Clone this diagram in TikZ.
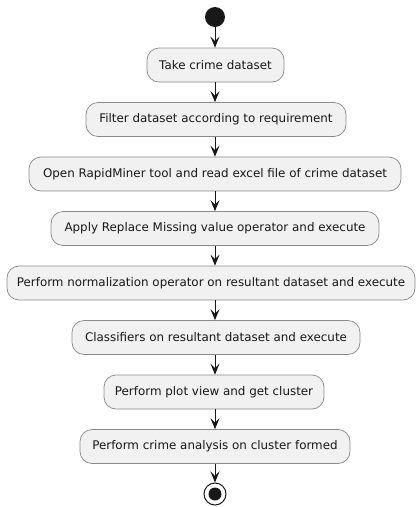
\documentclass[tikz,border=0pt]{standalone}
\usepackage{fontspec}
\setmainfont{DejaVu Sans}
\usetikzlibrary{arrows.meta}
\definecolor{boxfill}{HTML}{F1F1F1}
\definecolor{boxline}{HTML}{8A8A8A}
\definecolor{ink}{HTML}{181818}
\tikzset{
  act/.style={draw=boxline, line width=0.7pt, fill=boxfill, rounded corners=12pt,
    minimum height=34pt, inner sep=0pt, font=\fontsize{11.9}{14}\selectfont, text=ink},
  flow/.style={draw=ink, line width=1pt, -{Stealth[length=11pt, width=9pt, inset=4.5pt]}},
}
\begin{document}
\begin{tikzpicture}[x=1pt, y=-1pt]
  \useasboundingbox (0,0) rectangle (416,507);
  % start point
  \node[circle, fill=ink, minimum size=20pt, inner sep=0pt] (start) at (215,17) {};
  % actions
  \node[act, minimum width=137pt] (a1) at (215.5,65) {Take crime dataset};
  \node[act, minimum width=260pt] (a2) at (216,119.5) {Filter dataset according to requirement};
  \node[act, minimum width=372pt] (a3) at (215,174) {Open RapidMiner tool and read excel file of crime dataset};
  \node[act, minimum width=328pt] (a4) at (215,228.5) {Apply Replace Missing value operator and execute};
  \node[act, minimum width=408pt] (a5) at (211,283) {Perform normalization operator on resultant dataset and execute};
  \node[act, minimum width=288pt] (a6) at (216,337.5) {Classifiers on resultant dataset and execute};
  \node[act, minimum width=220pt] (a7) at (214,392) {Perform plot view and get cluster};
  \node[act, minimum width=270pt] (a8) at (215,446.5) {Perform crime analysis on cluster formed};
  % end point
  \node[circle, draw=ink, line width=1pt, fill=white, minimum size=22pt, inner sep=0pt] (stop) at (215,494) {};
  \node[circle, fill=ink, minimum size=13pt, inner sep=0pt] (stopdot) at (stop) {};
  % control flow
  \draw[flow] (start) -- (a1.north -| start);
  \draw[flow] (a1.south -| start) -- (a2.north -| start);
  \draw[flow] (a2.south -| start) -- (a3.north -| start);
  \draw[flow] (a3.south -| start) -- (a4.north -| start);
  \draw[flow] (a4.south -| start) -- (a5.north -| start);
  \draw[flow] (a5.south -| start) -- (a6.north -| start);
  \draw[flow] (a6.south -| start) -- (a7.north -| start);
  \draw[flow] (a7.south -| start) -- (a8.north -| start);
  \draw[flow] (a8.south -| start) -- (stop);
\end{tikzpicture}
\end{document}
